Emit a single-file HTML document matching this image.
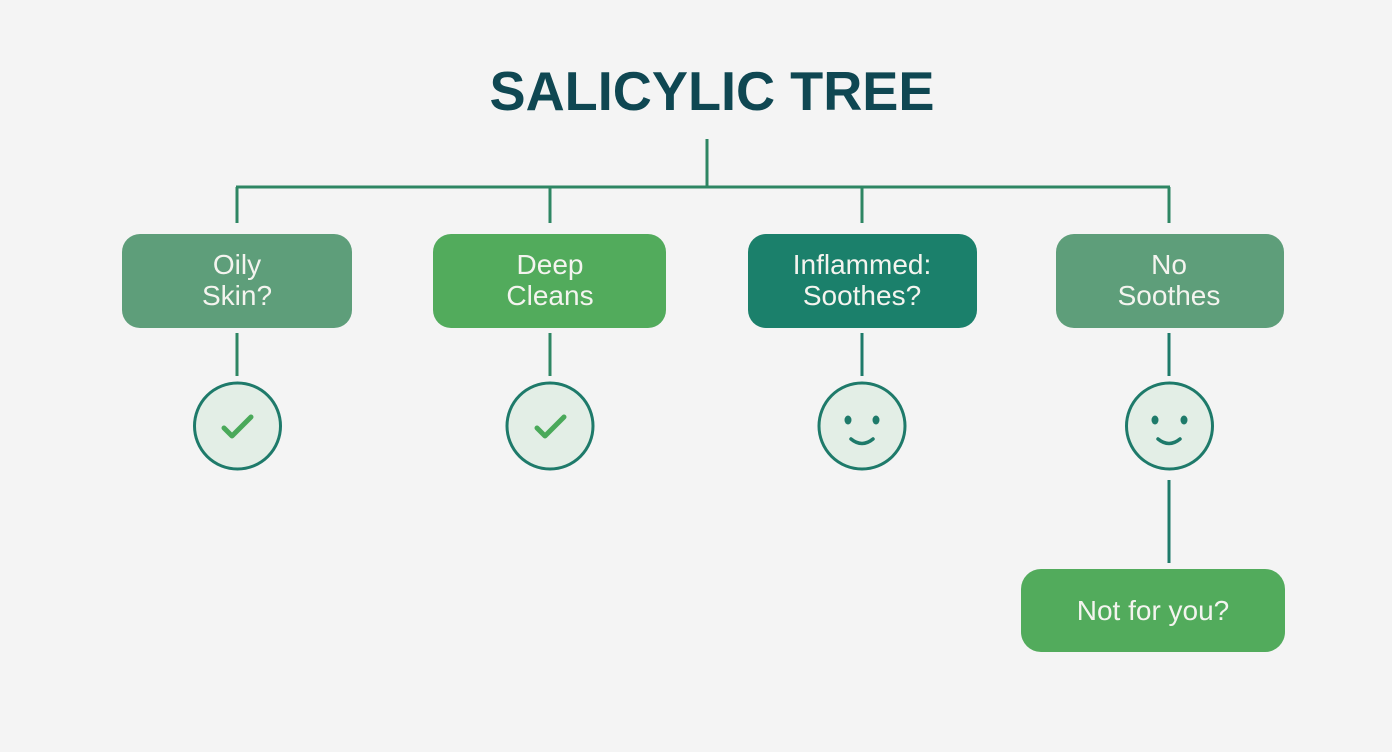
<!DOCTYPE html>
<html><head><meta charset="utf-8"><style>
html,body{margin:0;padding:0;background:#f4f4f4;}
svg{display:block;}
text{font-family:"Liberation Sans",sans-serif;}
</style></head><body>
<svg width="1392" height="752" viewBox="0 0 1392 752" xmlns="http://www.w3.org/2000/svg">
<rect width="1392" height="752" fill="#f4f4f4"/>
<text x="712" y="110" text-anchor="middle" font-size="55" font-weight="bold" fill="#0f4752" textLength="445" lengthAdjust="spacingAndGlyphs">SALICYLIC TREE</text>
<g stroke="#2e8663" stroke-width="3" fill="none">
<line x1="707" y1="139" x2="707" y2="187"/>
<line x1="236" y1="187" x2="1170" y2="187"/>
<line x1="237" y1="187" x2="237" y2="223"/>
<line x1="550" y1="187" x2="550" y2="223"/>
<line x1="862" y1="187" x2="862" y2="223"/>
<line x1="1169" y1="187" x2="1169" y2="223"/>
<line x1="237" y1="333" x2="237" y2="376"/>
<line x1="550" y1="333" x2="550" y2="376"/>
<line x1="862" y1="333" x2="862" y2="376" stroke="#1e7a6a"/>
<line x1="1169" y1="333" x2="1169" y2="376" stroke="#1e7a6a"/>
<line x1="1169" y1="480" x2="1169" y2="563" stroke="#1e7a6a"/>
</g>
<rect x="122" y="234" width="230" height="94" rx="18" fill="#5e9e7a"/>
<rect x="433" y="234" width="233" height="94" rx="18" fill="#52ab5c"/>
<rect x="748" y="234" width="229" height="94" rx="18" fill="#1b806b"/>
<rect x="1056" y="234" width="228" height="94" rx="18" fill="#5e9e7a"/>
<rect x="1021" y="569" width="264" height="83" rx="20" fill="#52ab5c"/>
<g fill="#f4f4ef" font-size="28" text-anchor="middle">
<text x="237" y="274">Oily</text><text x="237" y="305">Skin?</text>
<text x="550" y="274">Deep</text><text x="550" y="305">Cleans</text>
<text x="862" y="274">Inflammed:</text><text x="862" y="305">Soothes?</text>
<text x="1169" y="274">No</text><text x="1169" y="305">Soothes</text>
<text x="1153" y="620">Not for you?</text>
</g>
<g stroke="#1e7a6a" stroke-width="3" fill="#e3eee6">
<circle cx="237.5" cy="426" r="43"/>
<circle cx="550" cy="426" r="43"/>
<circle cx="862" cy="426" r="43"/>
<circle cx="1169.5" cy="426" r="43"/>
</g>
<g stroke="#4aa95a" stroke-width="5" fill="none" stroke-linecap="round" stroke-linejoin="round">
<polyline points="224,428 232,436 251,417"/>
<polyline points="537,428 545,436 564,417"/>
</g>
<g fill="#1e7a6a">
<ellipse cx="848" cy="420" rx="3.5" ry="4.5"/><ellipse cx="876" cy="420" rx="3.5" ry="4.5"/>
<ellipse cx="1155" cy="420" rx="3.5" ry="4.5"/><ellipse cx="1184" cy="420" rx="3.5" ry="4.5"/>
</g>
<g stroke="#1e7a6a" stroke-width="3.5" fill="none" stroke-linecap="round">
<path d="M851 439 Q862 448 873 439"/>
<path d="M1158 439 Q1169 448 1180 439"/>
</g>
</svg>
</body></html>
